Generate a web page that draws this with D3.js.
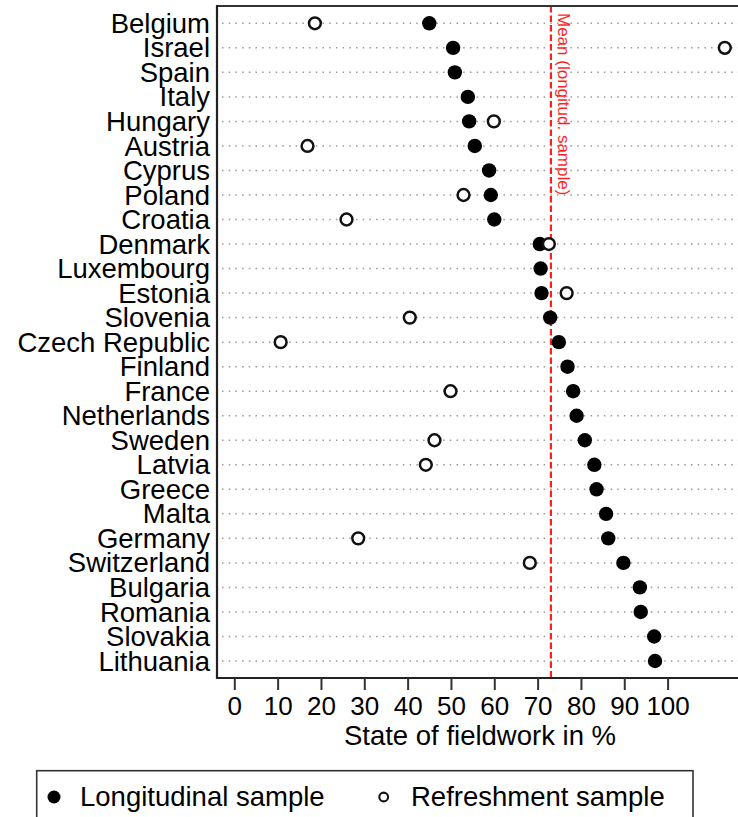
<!DOCTYPE html>
<html>
<head>
<meta charset="utf-8">
<script src="https://cdn.jsdelivr.net/npm/d3@7"></script>
<style>
  html, body { margin: 0; padding: 0; background: #fff; }
  svg { display: block; font-family: "Liberation Sans", Arial, Helvetica, sans-serif; }
</style>
</head>
<body>
<svg id="chart" width="738" height="817"></svg>
<script>
// Countries, top to bottom
const countries = [
  "Belgium", "Israel", "Spain", "Italy", "Hungary", "Austria", "Cyprus",
  "Poland", "Croatia", "Denmark", "Luxembourg", "Estonia", "Slovenia",
  "Czech Republic", "Finland", "France", "Netherlands", "Sweden", "Latvia",
  "Greece", "Malta", "Germany", "Switzerland", "Bulgaria", "Romania",
  "Slovakia", "Lithuania"
];

// State of fieldwork (%) – longitudinal sample
const longitudinal = [
  45.0, 50.5, 50.9, 53.9, 54.2, 55.5, 58.8,
  59.2, 60.0, 70.5, 70.7, 70.9, 72.9,
  74.9, 76.9, 78.2, 79.0, 80.9, 83.1,
  83.6, 85.8, 86.3, 89.8, 93.6, 93.8,
  96.9, 97.1
];

// State of fieldwork (%) – refreshment sample (null = no refreshment sample)
const refreshment = [
  18.6, 113.2, null, null, 59.9, 16.9, null,
  52.9, 25.9, 72.6, null, 76.7, 40.5,
  10.7, null, 49.9, null, 46.2, 44.2,
  null, null, 28.6, 68.2, null, null,
  null, null
];

const xTicks = [0, 10, 20, 30, 40, 50, 60, 70, 80, 90, 100];
const xTitle = "State of fieldwork in %";
const meanLabel = "Mean (longitud. sample)";
const legendLabels = ["Longitudinal sample", "Refreshment sample"];

const svg = d3.select("#chart");

const x = d3.scaleLinear().domain([0, 100]).range([234.3, 667.6]);
const y = d3.scalePoint().domain(countries).range([23.3, 661]);

const plotLeft = 217, plotTop = 6, plotBottom = 678;
const plotRight = x(117.4);

// Dotted row guides
svg.append("g")
  .selectAll("line")
  .data(countries)
  .join("line")
  .attr("x1", plotLeft + 5)
  .attr("x2", plotRight)
  .attr("y1", d => y(d))
  .attr("y2", d => y(d))
  .attr("stroke", "#9a9a9a")
  .attr("stroke-width", 1.5)
  .attr("stroke-dasharray", "1.5,5.2");

// Mean of the longitudinal sample
const meanVal = d3.mean(longitudinal);
svg.append("line")
  .attr("x1", x(meanVal)).attr("x2", x(meanVal))
  .attr("y1", plotTop).attr("y2", plotBottom)
  .attr("stroke", "#ff1f1f")
  .attr("stroke-width", 2.2)
  .attr("stroke-dasharray", "6.5,3");

svg.append("text")
  .attr("transform", `translate(${x(meanVal) + 7.5},13) rotate(90)`)
  .attr("font-size", 17)
  .attr("fill", "#ff1f1f")
  .text(meanLabel);

// Frame: top, left and bottom edges
svg.append("line")
  .attr("x1", plotLeft).attr("x2", 760)
  .attr("y1", plotTop).attr("y2", plotTop)
  .attr("stroke", "#333").attr("stroke-width", 2);
svg.append("line")
  .attr("x1", plotLeft).attr("x2", plotLeft)
  .attr("y1", plotTop - 1).attr("y2", plotBottom + 1)
  .attr("stroke", "#222").attr("stroke-width", 2.2);
svg.append("line")
  .attr("x1", plotLeft - 1).attr("x2", 760)
  .attr("y1", plotBottom).attr("y2", plotBottom)
  .attr("stroke", "#222").attr("stroke-width", 2.2);

// Country labels
svg.append("g")
  .selectAll("text")
  .data(countries)
  .join("text")
  .attr("x", 210)
  .attr("y", d => y(d) + 9.6)
  .attr("text-anchor", "end")
  .attr("font-size", 27.5)
  .attr("fill", "#000")
  .text(d => d);

// Bottom axis
const xAxis = d3.axisBottom(x)
  .tickValues(xTicks)
  .tickSize(12)
  .tickPadding(6.5)
  .tickFormat(d3.format("d"));

const axisG = svg.append("g")
  .attr("transform", `translate(0,${plotBottom})`)
  .call(xAxis);
axisG.select(".domain").remove();
axisG.selectAll(".tick line").attr("stroke", "#333").attr("stroke-width", 2);
axisG.selectAll(".tick text")
  .attr("font-size", 26)
  .attr("font-family", "Liberation Sans, Arial, Helvetica, sans-serif")
  .attr("fill", "#000");

svg.append("text")
  .attr("x", (plotLeft + plotRight) / 2)
  .attr("y", 745)
  .attr("text-anchor", "middle")
  .attr("font-size", 27.5)
  .attr("fill", "#000")
  .text(xTitle);

// Points: longitudinal (filled) then refreshment (hollow)
svg.append("g")
  .selectAll("circle")
  .data(countries.map((c, i) => ({ c, v: longitudinal[i] })))
  .join("circle")
  .attr("cx", d => x(d.v))
  .attr("cy", d => y(d.c))
  .attr("r", 7.2)
  .attr("fill", "#000");

svg.append("g")
  .selectAll("circle")
  .data(countries.map((c, i) => ({ c, v: refreshment[i] })).filter(d => d.v != null))
  .join("circle")
  .attr("cx", d => x(d.v))
  .attr("cy", d => y(d.c))
  .attr("r", 5.9)
  .attr("fill", "#fff")
  .attr("stroke", "#111")
  .attr("stroke-width", 2.5);

// Legend
const legend = svg.append("g");
legend.append("rect")
  .attr("x", 36.7).attr("y", 770.7)
  .attr("width", 693 - 36.7).attr("height", 70)
  .attr("fill", "#fff")
  .attr("stroke", "#333").attr("stroke-width", 1.6);

legend.append("circle")
  .attr("cx", 54).attr("cy", 797).attr("r", 6.5)
  .attr("fill", "#000");
legend.append("text")
  .attr("x", 80).attr("y", 805.5)
  .attr("font-size", 27.5).attr("fill", "#000")
  .text(legendLabels[0]);

legend.append("circle")
  .attr("cx", 383.7).attr("cy", 797).attr("r", 4.4)
  .attr("fill", "#fff")
  .attr("stroke", "#111").attr("stroke-width", 2.1);
legend.append("text")
  .attr("x", 411).attr("y", 805.5)
  .attr("font-size", 27.5).attr("fill", "#000")
  .text(legendLabels[1]);
</script>
</body>
</html>
